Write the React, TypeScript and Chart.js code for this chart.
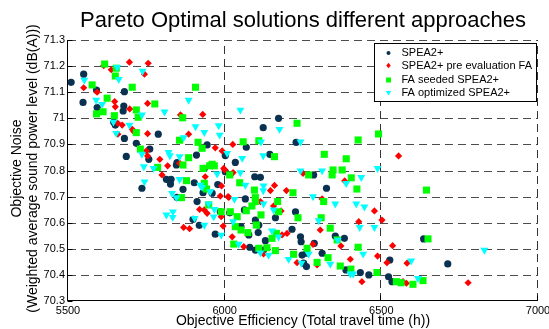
import React, { useEffect, useRef } from 'react';
import { Chart, registerables } from 'chart.js';

Chart.register(...registerables);

const FONT = "'Liberation Sans', Arial, Helvetica, sans-serif";

const chartTitle = 'Pareto Optimal solutions different approaches';
const xAxisTitle = 'Objective Efficiency (Total travel time (h))';
const yAxisTitle = ['Objective Noise', '(Weighted average sound power level (dB(A)))'];
const seriesNames = ['SPEA2+', 'SPEA2+ pre evaluation FA', 'FA seeded SPEA2+', 'FA optimized SPEA2+'];
const seriesColors = ['#0b3150', '#ff0000', '#00ff00', '#00ffff'];

const xTicks = [5500, 6000, 6500, 7000];
const yTicks = [70.3, 70.4, 70.5, 70.6, 70.7, 70.8, 70.9, 71.0, 71.1, 71.2, 71.3];

// SPEA2+
const speaX = [5510, 5550, 5548, 5593, 5591, 5680, 5678, 5676, 5646, 5680, 5718, 5788, 5761, 5686, 5758, 5848, 5910, 5944, 6002, 5651, 5736, 5814, 5829, 5827, 5846, 5867, 5903, 5931, 5935, 5978, 5960, 5848, 5912, 5899, 5919, 5970, 6002, 6172, 6123, 6228, 6069, 6144, 6034, 6096, 6114, 6284, 6325, 6066, 6016, 6063, 6226, 6162, 6098, 6109, 6052, 6077, 6107, 6130, 6215, 6242, 6244, 6286, 6353, 6382, 6080, 6098, 6124, 6247, 6261, 6252, 6261, 6311, 6387, 6433, 6460, 6523, 5986, 6635, 6527, 6712, 6534];
const speaY = [71.138, 71.169, 71.061, 71.041, 71.108, 71.102, 71.047, 71.028, 70.985, 70.923, 70.904, 70.939, 70.882, 70.854, 70.843, 70.830, 70.859, 70.898, 70.857, 70.974, 70.732, 70.766, 70.766, 70.748, 70.821, 70.728, 70.753, 70.715, 70.808, 70.746, 70.713, 70.697, 70.681, 70.613, 70.590, 70.556, 70.795, 71.000, 70.964, 70.908, 70.889, 70.862, 70.831, 70.776, 70.774, 70.783, 70.732, 70.691, 70.638, 70.649, 70.642, 70.619, 70.610, 70.591, 70.585, 70.553, 70.562, 70.531, 70.575, 70.546, 70.527, 70.521, 70.549, 70.540, 70.506, 70.495, 70.495, 70.476, 70.483, 70.445, 70.432, 70.483, 70.419, 70.409, 70.400, 70.393, 70.642, 70.538, 70.457, 70.442, 70.374];

// SPEA2+ pre evaluation FA
const preX = [5550, 5593, 5614, 5638, 5696, 5756, 5744, 5649, 5651, 5697, 5754, 5859, 5930, 5659, 5673, 5705, 5710, 5754, 5659, 5750, 5793, 5885, 5970, 5992, 5754, 5818, 5800, 5856, 5938, 5990, 5986, 6011, 5920, 5935, 5944, 5869, 5888, 5989, 5995, 5997, 6026, 6000, 6027, 6250, 6383, 6159, 6146, 6197, 6013, 6114, 6311, 6156, 6180, 6478, 6502, 6428, 6024, 6061, 6183, 6199, 6305, 6282, 6371, 6401, 6124, 6231, 6295, 6488, 6518, 6438, 6555, 6536, 6582, 6569, 6580, 6777];
const preY = [71.117, 71.100, 71.202, 71.186, 71.215, 71.211, 71.169, 71.064, 71.044, 71.036, 71.057, 71.013, 71.015, 70.981, 70.974, 70.958, 70.949, 70.941, 70.939, 70.875, 70.843, 70.939, 70.887, 70.875, 70.856, 70.818, 70.783, 70.828, 70.776, 70.741, 70.702, 70.700, 70.651, 70.649, 70.636, 70.582, 70.577, 70.623, 70.587, 70.808, 70.900, 70.802, 70.792, 70.789, 70.760, 70.743, 70.723, 70.723, 70.697, 70.681, 70.691, 70.664, 70.645, 70.645, 70.610, 70.604, 70.546, 70.508, 70.553, 70.559, 70.572, 70.517, 70.511, 70.460, 70.480, 70.447, 70.438, 70.472, 70.447, 70.374, 70.856, 70.512, 70.445, 70.374, 70.368, 70.370];

// FA seeded SPEA2+
const seedX = [5617, 5654, 5651, 5577, 5625, 5705, 5907, 5777, 5718, 5724, 5648, 5612, 5591, 5866, 5718, 5856, 5915, 5928, 5731, 5885, 5960, 5786, 5867, 5931, 5952, 5967, 5878, 5935, 5942, 5862, 5949, 5989, 6016, 6231, 6491, 6426, 6059, 6109, 6159, 6318, 6388, 6346, 6375, 6343, 6268, 6404, 6048, 6422, 6095, 6218, 6098, 6098, 6169, 6316, 6087, 6069, 6172, 6018, 6116, 6234, 6308, 6040, 6101, 6034, 6052, 6074, 6337, 6165, 6151, 6359, 6029, 6109, 6135, 6162, 6263, 6426, 6220, 6330, 6295, 6369, 6403, 6486, 6644, 6649, 6548, 6563, 6601, 6633];
const seedY = [71.208, 71.192, 71.162, 71.128, 71.077, 71.119, 71.119, 71.055, 71.032, 71.004, 71.010, 71.025, 71.017, 71.002, 70.945, 70.916, 70.908, 70.885, 70.882, 70.849, 70.824, 70.812, 70.821, 70.808, 70.818, 70.818, 70.761, 70.751, 70.729, 70.696, 70.668, 70.642, 70.783, 70.981, 70.940, 70.917, 70.910, 70.914, 70.853, 70.862, 70.845, 70.802, 70.802, 70.783, 70.783, 70.772, 70.753, 70.729, 70.725, 70.715, 70.696, 70.681, 70.681, 70.681, 70.664, 70.646, 70.642, 70.642, 70.630, 70.619, 70.619, 70.623, 70.591, 70.585, 70.572, 70.562, 70.579, 70.559, 70.540, 70.534, 70.518, 70.502, 70.504, 70.493, 70.502, 70.506, 70.479, 70.466, 70.448, 70.434, 70.422, 70.409, 70.725, 70.538, 70.374, 70.370, 70.364, 70.378];

// FA optimized SPEA2+
const optX = [5552, 5590, 5609, 5657, 5662, 5738, 5645, 5654, 5696, 5736, 5808, 5885, 5907, 5935, 5981, 5984, 5869, 5821, 5825, 5856, 6008, 5736, 5742, 5773, 5744, 5856, 5922, 5928, 5954, 5832, 5846, 5835, 5834, 5814, 5904, 5935, 5967, 5965, 5949, 5976, 5989, 6050, 6175, 6116, 6242, 6056, 6123, 6050, 6066, 6242, 6311, 6488, 6436, 6388, 6124, 6123, 6031, 6282, 6353, 6420, 6446, 6124, 6156, 6300, 6027, 6431, 6478, 6151, 6172, 6045, 6114, 6140, 6204, 6268, 6245, 6337, 6361, 6442, 6401, 6410, 6829, 6595, 6617];
const optY = [71.147, 71.070, 71.054, 71.195, 71.149, 71.181, 70.986, 70.943, 70.974, 71.013, 71.025, 71.070, 70.968, 70.946, 70.972, 70.936, 70.926, 70.870, 70.857, 70.853, 70.866, 70.863, 70.815, 70.808, 70.757, 70.766, 70.744, 70.736, 70.719, 70.713, 70.696, 70.642, 70.621, 70.630, 70.617, 70.591, 70.651, 70.623, 70.672, 70.787, 70.553, 71.032, 70.958, 70.910, 70.910, 70.847, 70.857, 70.792, 70.744, 70.799, 70.799, 70.808, 70.774, 70.751, 70.741, 70.723, 70.690, 70.700, 70.672, 70.672, 70.661, 70.672, 70.649, 70.608, 70.604, 70.582, 70.582, 70.569, 70.546, 70.518, 70.485, 70.476, 70.460, 70.480, 70.445, 70.442, 70.534, 70.480, 70.404, 70.404, 70.495, 70.454, 70.387];

const toPoints = (xs: number[], ys: number[]) => xs.map((x, i) => ({ x, y: ys[i] }));

function drawMarker(ctx: CanvasRenderingContext2D, kind: number, x: number, y: number, s: number) {
  ctx.fillStyle = seriesColors[kind];
  ctx.beginPath();
  if (kind === 0) {
    ctx.arc(x, y, s * 0.45, 0, Math.PI * 2);
  } else if (kind === 1) {
    ctx.moveTo(x, y - s * 0.55);
    ctx.lineTo(x + s * 0.45, y);
    ctx.lineTo(x, y + s * 0.55);
    ctx.lineTo(x - s * 0.45, y);
    ctx.closePath();
  } else if (kind === 2) {
    ctx.rect(x - s / 2, y - s / 2, s, s);
  } else {
    ctx.moveTo(x - s * 0.55, y - s * 0.4);
    ctx.lineTo(x + s * 0.55, y - s * 0.4);
    ctx.lineTo(x, y + s * 0.5);
    ctx.closePath();
  }
  ctx.fill();
}

const framePlugin = {
  id: 'matlabFrame',
  beforeDatasetsDraw(chart: any) {
    const { ctx, chartArea } = chart;
    const { left, right, top, bottom } = chartArea;
    const xs = chart.scales.x;
    const ys = chart.scales.y;
    ctx.save();
    ctx.lineWidth = 1;
    ctx.strokeStyle = '#4d4d4d';
    ctx.setLineDash([8, 5]);
    yTicks.forEach((v, i) => {
      if (i === 0) return;
      const py = Math.round(ys.getPixelForValue(v)) + 0.5;
      ctx.beginPath();
      ctx.moveTo(left, py);
      ctx.lineTo(right, py);
      ctx.stroke();
    });
    ctx.strokeStyle = '#333';
    xTicks.forEach((v, i) => {
      if (i === 0) return;
      const px = Math.round(xs.getPixelForValue(v)) - 0.5;
      ctx.beginPath();
      ctx.moveTo(px, bottom);
      ctx.lineTo(px, top);
      ctx.stroke();
    });
    ctx.setLineDash([]);
    ctx.strokeStyle = '#000';
    const L = Math.round(left) - 0.5;
    const B = Math.round(bottom) - 0.5;
    ctx.beginPath();
    ctx.moveTo(L, top);
    ctx.lineTo(L, B);
    ctx.lineTo(right, B);
    ctx.stroke();
    xTicks.forEach((v) => {
      const px = Math.round(xs.getPixelForValue(v)) - 0.5;
      ctx.beginPath();
      ctx.moveTo(px, B);
      ctx.lineTo(px, B - 5);
      ctx.stroke();
    });
    yTicks.forEach((v) => {
      const py = Math.round(ys.getPixelForValue(v)) + 0.5;
      ctx.beginPath();
      ctx.moveTo(L, py);
      ctx.lineTo(L + 5, py);
      ctx.stroke();
    });
    ctx.restore();
  },
  afterDraw(chart: any) {
    const { ctx, chartArea } = chart;
    const { left, right, top, bottom } = chartArea;
    ctx.save();
    ctx.fillStyle = '#000';
    ctx.textAlign = 'center';
    ctx.textBaseline = 'middle';
    ctx.font = `22px ${FONT}`;
    ctx.fillText(chartTitle, (left + right) / 2, 21);
    ctx.font = `14px ${FONT}`;
    ctx.fillText(xAxisTitle, (left + right) / 2, 321);
    const cy = (top + bottom) / 2 - 2;
    ctx.save();
    ctx.translate(17, cy);
    ctx.rotate(-Math.PI / 2);
    ctx.fillText(yAxisTitle[0], 0, 0);
    ctx.restore();
    ctx.save();
    ctx.translate(33, cy);
    ctx.rotate(-Math.PI / 2);
    ctx.fillText(yAxisTitle[1], 0, 0);
    ctx.restore();

    // legend
    const bx = Math.round(right) - 164 + 0.5;
    const by = Math.round(top) + 3 + 0.5;
    const bw = 162;
    const bh = 58;
    ctx.fillStyle = '#fff';
    ctx.fillRect(bx, by, bw, bh);
    ctx.strokeStyle = '#000';
    ctx.lineWidth = 1;
    ctx.strokeRect(bx, by, bw, bh);
    const rows = [9.5, 22, 36.5, 49.5];
    const sizes = [4.5, 5, 5, 5];
    ctx.font = `11px ${FONT}`;
    ctx.textAlign = 'left';
    seriesNames.forEach((name, i) => {
      const ry = by + rows[i];
      drawMarker(ctx, i, bx + 14, ry, sizes[i]);
      ctx.fillStyle = '#000';
      ctx.fillText(name, bx + 27, ry);
    });
    ctx.restore();
  },
};

export default function App() {
  const ref = useRef<HTMLCanvasElement>(null);
  useEffect(() => {
    document.body.style.margin = '0';
    const chart = new Chart(ref.current as HTMLCanvasElement, {
      type: 'scatter',
      data: {
        datasets: [
          {
            label: seriesNames[0],
            data: toPoints(speaX, speaY),
            pointStyle: 'circle',
            pointRadius: 3.6,
            backgroundColor: seriesColors[0],
            borderColor: seriesColors[0],
            borderWidth: 0,
            order: 4,
          },
          {
            label: seriesNames[1],
            data: toPoints(preX, preY),
            pointStyle: 'rectRot',
            pointRadius: 3.6,
            backgroundColor: seriesColors[1],
            borderColor: seriesColors[1],
            borderWidth: 0,
            order: 3,
          },
          {
            label: seriesNames[2],
            data: toPoints(seedX, seedY),
            pointStyle: 'rect',
            pointRadius: 5,
            backgroundColor: seriesColors[2],
            borderColor: seriesColors[2],
            borderWidth: 0,
            order: 2,
          },
          {
            label: seriesNames[3],
            data: toPoints(optX, optY),
            pointStyle: 'triangle',
            rotation: 180,
            pointRadius: 4.6,
            backgroundColor: seriesColors[3],
            borderColor: seriesColors[3],
            borderWidth: 0,
            order: 1,
          },
        ],
      },
      options: {
        responsive: false,
        maintainAspectRatio: false,
        animation: false,
        events: [],
        layout: { padding: { left: 0, top: 40, right: 11, bottom: 0 } },
        plugins: {
          legend: { display: false },
          tooltip: { enabled: false },
          title: { display: false },
        },
        scales: {
          x: {
            type: 'linear',
            position: 'bottom',
            min: xTicks[0],
            max: xTicks[xTicks.length - 1],
            grid: { display: false, drawTicks: false },
            border: { display: false },
            afterBuildTicks: (s: any) => {
              s.ticks = xTicks.map((v) => ({ value: v }));
            },
            afterFit: (s: any) => {
              s.height = 28;
              s.paddingLeft = 0;
              s.paddingRight = 0;
            },
            ticks: {
              color: '#000',
              font: { family: FONT, size: 11 },
              padding: 3,
              maxRotation: 0,
              autoSkip: false,
              callback: (v: any) => String(v),
            },
          },
          y: {
            type: 'linear',
            position: 'left',
            min: yTicks[0],
            max: yTicks[yTicks.length - 1],
            grid: { display: false, drawTicks: false },
            border: { display: false },
            afterBuildTicks: (s: any) => {
              s.ticks = yTicks.map((v) => ({ value: v }));
            },
            afterFit: (s: any) => {
              s.width = 68;
              s.paddingTop = 0;
              s.paddingBottom = 0;
            },
            ticks: {
              color: '#000',
              font: { family: FONT, size: 11 },
              padding: 3,
              autoSkip: false,
              callback: (v: any) => String(Math.round(Number(v) * 10) / 10),
            },
          },
        },
      },
      plugins: [framePlugin],
    } as any);
    return () => chart.destroy();
  }, []);
  return (
    <div style={{ width: 549, height: 329, background: '#fff' }}>
      <canvas ref={ref} width={549} height={329} style={{ display: 'block' }} />
    </div>
  );
}
